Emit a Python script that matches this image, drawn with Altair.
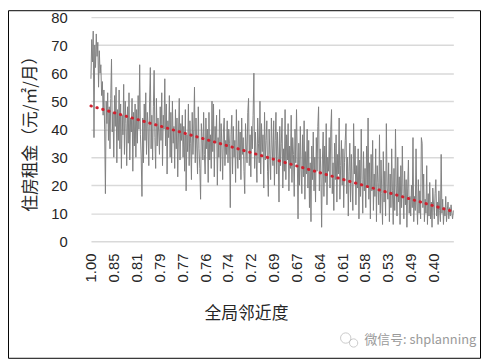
import json
import altair as alt
import pandas as pd

# ---- data (one row per x-label interval) ----
rent = [
    58, 72, 64, 75, 37, 70, 62, 74, 66, 71, 55, 68, 60, 63, 52, 57, 45, 54, 40, 17, 50, 42, 53, 36, 48, 33, 51, 65, 39, 46,
    30, 52, 41, 55, 28, 47, 36, 54, 33, 49, 26, 45, 38, 56, 31, 50, 42, 27, 48, 35, 53, 29, 44, 39, 51, 25, 46, 34, 49, 30,
    47, 35, 52, 40, 63, 38, 30, 16, 44, 28, 49, 36, 53, 31, 46, 41, 27, 50, 62, 33, 45, 29, 48, 61, 37, 26, 51, 34, 44, 39,
    31, 48, 36, 53, 27, 45, 40, 58, 34, 49, 24, 43, 37, 52, 30, 46, 28, 50, 35, 41, 26, 47, 33, 44, 23, 39, 51, 29, 42, 36,
    45, 30, 41, 25, 47, 18, 38, 32, 49, 27, 43, 35, 22, 46, 31, 40, 55, 28, 44, 34, 24, 48, 33, 26, 15, 42, 37, 29, 46, 31,
    24, 44, 33, 40, 21, 46, 29, 38, 26, 50, 32, 49, 23, 41, 35, 45, 20, 37, 30, 47, 25, 42, 34, 22, 39, 44, 27, 36, 31, 43,
    28, 40, 35, 12, 38, 45, 24, 41, 30, 36, 21, 47, 33, 26, 43, 29, 39, 22, 44, 31, 37, 25, 17, 42, 34, 28, 46, 51, 27, 38,
    23, 41, 33, 45, 60, 26, 39, 30, 21, 44, 35, 28, 50, 24, 42, 32, 38, 19, 46, 29, 36, 43, 25, 16, 40, 31, 22, 44, 34, 27,
    43, 20, 36, 46, 24, 39, 30, 14, 41, 27, 35, 44, 19, 33, 25, 47, 22, 38, 29, 42, 18, 34, 26, 45, 21, 37, 31, 16, 40, 28,
    47, 30, 8, 35, 20, 41, 26, 17, 38, 23, 43, 15, 32, 24, 40, 19, 36, 12, 28, 7, 34, 22, 39, 18, 30, 14, 37, 25, 41, 48,
    18, 33, 24, 5, 29, 39, 16, 34, 21, 42, 13, 30, 25, 37, 19, 40, 47, 17, 28, 11, 35, 22, 38, 14, 31, 24, 44, 15, 27, 36,
    20, 33, 12, 28, 36, 42, 17, 30, 9, 25, 35, 14, 31, 21, 11, 42, 24, 34, 13, 27, 19, 33, 8, 29, 16, 40, 22, 10, 32, 18,
    26, 12, 34, 20, 44, 15, 28, 8, 31, 18, 36, 11, 24, 16, 33, 7, 27, 21, 13, 38, 10, 29, 17, 6, 32, 14, 25, 9, 42, 19,
    15, 28, 7, 24, 12, 33, 18, 6, 26, 11, 40, 20, 9, 30, 14, 23, 6, 27, 12, 34, 17, 8, 25, 13, 22, 5, 19, 29, 10, 16,
    9, 20, 12, 37, 7, 16, 11, 33, 14, 6, 22, 10, 18, 8, 37, 35, 12, 24, 7, 15, 10, 27, 6, 17, 9, 21, 8, 14, 5, 19,
    13, 8, 17, 22, 9, 14, 6, 18, 11, 7, 31, 10, 15, 6, 12, 9, 16, 7, 11, 14, 8, 12, 9, 13, 10, 8, 11,
]
x_labels = ["1.00", "0.85", "0.81", "0.79", "0.77", "0.76", "0.74", "0.72",
            "0.69", "0.67", "0.64", "0.61", "0.58", "0.53", "0.49", "0.40"]
label_step = 30
trend_idx = [0, len(rent) - 1]
trend_val = [48.3, 10.6]
y_ticks = [0, 10, 20, 30, 40, 50, 60, 70, 80]

W, H = 367, 227
PAD = {"left": 84, "top": 7, "right": 28, "bottom": 119}

df = pd.DataFrame({"idx": list(range(len(rent))), "rent": rent})
trend_df = pd.DataFrame({"idx": trend_idx, "rent": trend_val})
one = pd.DataFrame({"a": [0]})

label_expr = f"{json.dumps(x_labels)}[round(datum.value / {label_step})]"

x_axis = alt.Axis(
    values=[i * label_step for i in range(len(x_labels))],
    labelExpr=label_expr,
    labelAngle=270,
    labelPadding=12,
    labelFontSize=15,
    labelFont="Liberation Sans",
    labelColor="#262626",
    labelOverlap=False,
    labelFlush=False,
    ticks=False,
    domain=False,
    grid=False,
    title="全局邻近度",
    titleFont="Noto Sans CJK SC",
    titleFontSize=17,
    titleFontWeight="normal",
    titleColor="#262626",
    titleX=157,
    titleY=73,
    titleAlign="center",
    titleBaseline="middle",
)
y_axis = alt.Axis(
    values=y_ticks,
    labelPadding=24,
    labelFontSize=15,
    labelFont="Liberation Sans",
    labelColor="#262626",
    labelOverlap=False,
    labelFlush=False,
    ticks=False,
    domain=False,
    gridColor="#d9d9d9",
    gridWidth=1.5,
    title="住房租金（元/㎡/月）",
    titleFont="Noto Sans CJK SC",
    titleFontSize=17,
    titleFontWeight="normal",
    titleColor="#262626",
    titleAngle=270,
    titleX=-61,
    titleY=H / 2,
    titleAlign="center",
    titleBaseline="middle",
)
x_enc = alt.X("idx:Q", scale=alt.Scale(domain=[0, len(rent) - 1], nice=False, zero=False), axis=x_axis)
y_enc = alt.Y("rent:Q", scale=alt.Scale(domain=[0, 80], nice=False), axis=y_axis)

line = alt.Chart(df).mark_line(color="#808080", strokeWidth=1).encode(x=x_enc, y=y_enc)

trend = alt.Chart(trend_df).mark_line(
    color="#d0202e", strokeWidth=3, strokeDash=[0.5, 5.7], strokeCap="round"
).encode(x=x_enc, y=y_enc)

frame = alt.Chart(one).mark_rect(fill=None, stroke="black", strokeWidth=1).encode(
    x=alt.value(-83.5), x2=alt.value(W + 27.5), y=alt.value(-6.5), y2=alt.value(H + 118.5)
)

watermark = alt.Chart(one).mark_text(
    text="微信号: shplanning", font="Noto Sans CJK SC", fontSize=13, color="#9a9a9a",
    align="left", baseline="middle"
).encode(x=alt.value(277), y=alt.value(327))

icon_a = alt.Chart(one).mark_point(shape="circle", filled=False, size=110, color="#b5b5b5",
                                    strokeWidth=1).encode(x=alt.value(258), y=alt.value(325))
icon_b = alt.Chart(one).mark_point(shape="circle", filled=False, size=70, color="#b5b5b5",
                                    strokeWidth=1).encode(x=alt.value(266), y=alt.value(330))

chart = alt.layer(line, trend, frame, watermark, icon_a, icon_b).properties(
    width=W, height=H,
    autosize=alt.AutoSizeParams(type="none"),
    padding=PAD,
).configure_view(stroke=None).configure_axis(labelOverlap=False)

chart.save("out.html", embed_options={"renderer": "svg", "actions": False})
